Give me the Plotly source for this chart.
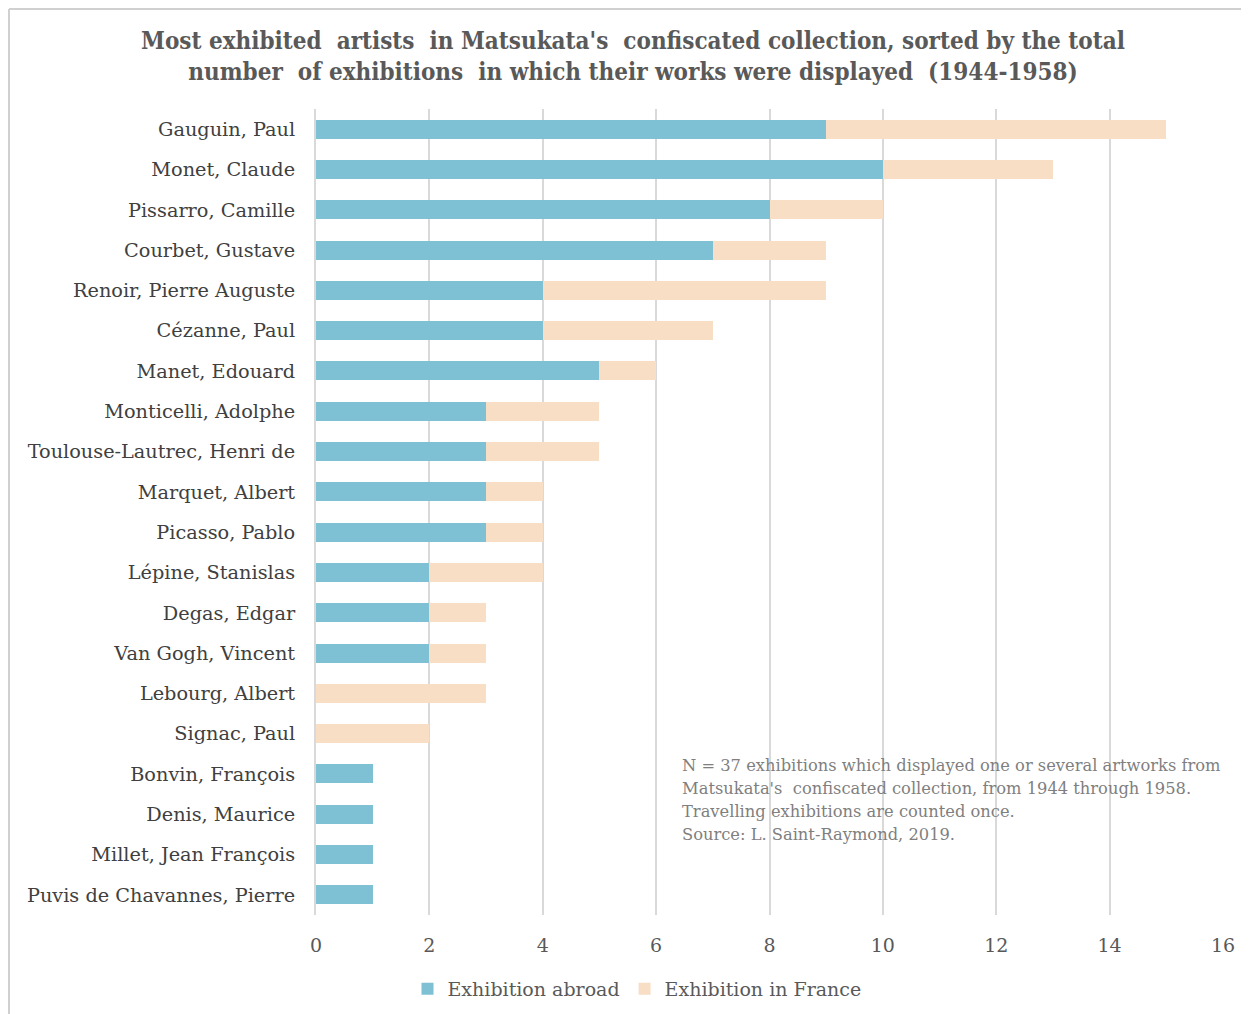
import plotly.graph_objects as go

artists = ["Gauguin, Paul", "Monet, Claude", "Pissarro, Camille", "Courbet, Gustave",
           "Renoir, Pierre Auguste", "Cézanne, Paul", "Manet, Edouard", "Monticelli, Adolphe",
           "Toulouse-Lautrec, Henri de", "Marquet, Albert", "Picasso, Pablo", "Lépine, Stanislas",
           "Degas, Edgar", "Van Gogh, Vincent", "Lebourg, Albert", "Signac, Paul",
           "Bonvin, François", "Denis, Maurice", "Millet, Jean François", "Puvis de Chavannes, Pierre"]
abroad = [9, 10, 8, 7, 4, 4, 5, 3, 3, 3, 3, 2, 2, 2, 0, 0, 1, 1, 1, 1]
france = [6, 3, 2, 2, 5, 3, 1, 2, 2, 1, 1, 2, 1, 1, 3, 2, 0, 0, 0, 0]
x_ticks = [0, 2, 4, 6, 8, 10, 12, 14, 16]
note_lines = ["N = 37 exhibitions which displayed one or several artworks from",
              "Matsukata's  confiscated collection, from 1944 through 1958.",
              "Travelling exhibitions are counted once.",
              "Source: L. Saint-Raymond, 2019."]

# page has an 8px body margin, so the figure is sized to fit in the window
W, H = 1241, 1006
L, R, T, B = 308, 26, 101, 99
pw, ph = W - L - R, H - T - B

serif = "DejaVu Serif, Liberation Serif, serif"

fig = go.Figure()
fig.add_trace(go.Bar(y=artists, x=abroad, orientation="h", name="Exhibition abroad",
                     marker=dict(color="#7ec0d4", line=dict(width=0)), width=0.47))
fig.add_trace(go.Bar(y=artists, x=france, orientation="h", name="Exhibition in France",
                     marker=dict(color="#f9dec6", line=dict(width=0)), width=0.47))

fig.update_layout(
    width=W, height=H, barmode="stack",
    margin=dict(l=L, r=R, t=T, b=B, autoexpand=False),
    paper_bgcolor="white", plot_bgcolor="white",
    font=dict(family=serif, color="#595959", size=19),
    title=dict(text="<b>Most exhibited  artists  in Matsukata's  confiscated collection, sorted by the total<br>number  of exhibitions  in which their works were displayed  (1944-1958)</b>",
               x=(633 - 8) / W, xanchor="center", xref="container",
               y=1 - 40.5 / H, yanchor="middle", yref="container",
               font=dict(family="DejaVu Serif Condensed, Liberation Serif, serif", size=24, color="#595959")),
    xaxis=dict(range=[0, 16], tickvals=x_ticks, showgrid=True, gridcolor="#d9d9d9", gridwidth=1.5,
               zeroline=False, showline=False, ticks="", ticklabelstandoff=17,
               tickfont=dict(size=19, color="#595959", family=serif)),
    yaxis=dict(categoryorder="array", categoryarray=artists[::-1], showgrid=False,
               showline=True, linecolor="#d9d9d9", linewidth=2, ticks="", ticklen=0,
               ticklabelstandoff=15,
               tickfont=dict(size=19.3, color="#404040", family=serif)),
    legend=dict(orientation="h", x=(629 - L) / pw, xanchor="center",
                y=(H - B - 981) / ph, yanchor="middle",
                font=dict(size=19, color="#595959", family=serif), traceorder="normal",
                itemwidth=30),
    showlegend=True,
)

for i, line in enumerate(note_lines):
    fig.add_annotation(
        text=line, xref="paper", yref="paper", x=(672 - L) / pw,
        y=(H - B - (757 + 23 * i)) / ph, xanchor="left", yanchor="middle",
        align="left", showarrow=False, font=dict(size=16.3, color="#7f7f7f", family=serif))

# chart frame (top and left edges)
fig.add_shape(type="line", xref="paper", yref="paper", x0=(1 - L) / pw, x1=(W - L) / pw,
              y0=(H - B - 1) / ph, y1=(H - B - 1) / ph, line=dict(color="#d0d0d0", width=2))
fig.add_shape(type="line", xref="paper", yref="paper", x0=(1 - L) / pw, x1=(1 - L) / pw,
              y0=(H - B - 1) / ph, y1=(H - B - H) / ph, line=dict(color="#d0d0d0", width=2))

fig.write_html("out.html")
